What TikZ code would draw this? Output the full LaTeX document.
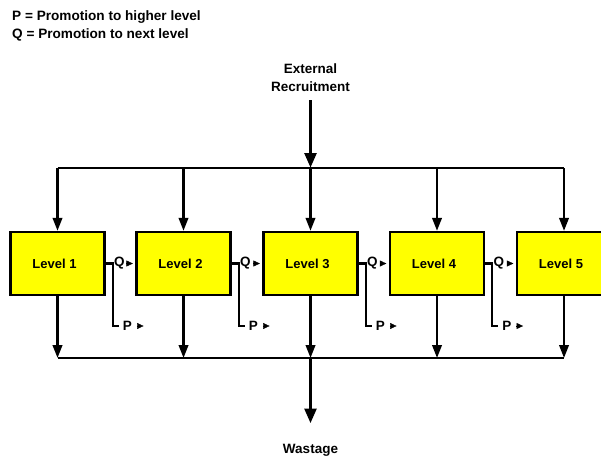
\documentclass[tikz,border=0pt]{standalone}
\usepackage{fontspec}
\setmainfont{Liberation Sans}
\usetikzlibrary{arrows.meta}
\definecolor{boxyellow}{RGB}{255,255,0}

\begin{document}
\begin{tikzpicture}[x=1pt,y=-1pt,line join=miter,
  lbl/.style={font=\bfseries\fontsize{13.5}{18}\selectfont,inner sep=0pt},
  legend/.style={font=\bfseries\fontsize{13.6}{18}\selectfont,inner sep=0pt},
  levelbox/.style={draw,fill=boxyellow,line width=2.3pt,minimum width=94pt,
    minimum height=63pt,inner sep=0pt,font=\bfseries\fontsize{13}{16}\selectfont},
  wire/.style={line width=2.3pt},
  feed/.style={line width=2.3pt,-{Triangle[length=13pt,width=9.5pt]}},
  bigflow/.style={line width=3.8pt,-{Triangle[length=15pt,width=11.5pt]}},
  tri/.style={line width=0.4pt,-{Triangle[length=6.5pt,width=6pt]}}]

\useasboundingbox (0,0) rectangle (601,457);

% legend
\node[legend,anchor=base west] (legP) at (12,20.5) {P = Promotion to higher level};
\node[legend,anchor=base west] (legQ) at (12,38.5) {Q = Promotion to next level};

% levels (text set slightly left of centre)
\node[levelbox] (L1) at (57.5,263.5) {Level 1\hspace*{6pt}};
\node[levelbox] (L2) at (183.5,263.5) {Level 2\hspace*{6pt}};
\node[levelbox] (L3) at (310.5,263.5) {Level 3\hspace*{6pt}};
\node[levelbox] (L4) at (437,263.5) {Level 4\hspace*{6pt}};
\node[levelbox] (L5) at (564,263.5) {Level 5\hspace*{6pt}};

% recruitment bus
\node[lbl,align=center,anchor=north] (ext) at (310.5,64) {External\\Recruitment};
\coordinate (top) at (310.5,168);
\draw[bigflow,shorten <=8pt] (ext.south) -- (top);
\draw[wire] (L1 |- top) -- (L5 |- top);
\foreach \n in {L1,L2,L3,L4,L5}
  \draw[feed] (\n |- top) -- (\n.north);

% wastage bus
\coordinate (bot) at (310.5,358);
\node[lbl,anchor=base] (waste) at (310.5,453) {Wastage};
\draw[wire] (L1 |- bot) -- (L5 |- bot);
\foreach \n in {L1,L2,L3,L4,L5}
  \draw[feed] (\n.south) -- (\n |- bot);
\draw[bigflow,shorten >=20pt] (bot) -- (waste.north);

% promotions between neighbouring levels
\foreach \a/\b in {L1/L2,L2/L3,L3/L4,L4/L5} {
  \draw[wire] (\a.east) -- ++(7,0) coordinate (\a j) -- ++(0,62.5) -- ++(6,0) coordinate (\a p);
  \node[lbl,anchor=west,inner sep=1.2pt] (\a q) at (\a j) {Q};
  \draw[tri,shorten <=2pt,shorten >=2.5pt] (\a q.east) -- (\b.west);
  \node[lbl,anchor=west] (\a pp) at ([xshift=4pt]\a p) {P};
  \coordinate (\a pe) at ([xshift=11.5pt]\a pp.east);
  \draw[tri,shorten <=4.8pt] (\a pp.east) -- (\a pe);
}
\end{tikzpicture}
\end{document}
